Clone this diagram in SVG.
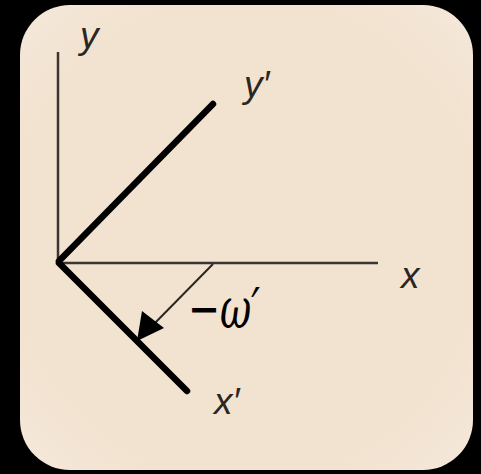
<svg xmlns="http://www.w3.org/2000/svg" width="481" height="474" viewBox="0 0 481 474">
<defs>
<style>
.axis{stroke:#3b3631;stroke-width:2.5;fill:none}
.prime{stroke:#000;stroke-width:6.5;stroke-linecap:round;fill:none}
.lbl{font-family:"Liberation Sans",Arial,sans-serif;font-style:italic;font-size:37px;fill:#2a2622}
.math{font-family:"DejaVu Serif","Liberation Serif",serif;font-style:italic;font-size:56px;fill:#000}
</style>
<radialGradient id="bg" cx="0.5" cy="0.5" r="0.75">
<stop offset="0.7" stop-color="#f2e2d0"/>
<stop offset="1" stop-color="#f6ebde"/>
</radialGradient>
</defs>
<rect x="0" y="0" width="481" height="474" fill="#000"/>
<rect x="20" y="5" width="453" height="465" rx="50" ry="50" fill="url(#bg)"/>
<g id="axes">
<line class="axis" x1="58" y1="52" x2="58" y2="263"/>
<line class="axis" x1="57" y1="263" x2="378" y2="263"/>
</g>
<g id="primed-axes">
<line class="prime" x1="59" y1="261" x2="213" y2="104"/>
<line class="prime" x1="59" y1="263" x2="187" y2="391"/>
</g>
<g id="connectors">
<line x1="213" y1="264" x2="152" y2="326" stroke="#2a2622" stroke-width="2"/>
<polygon points="137,341 142,311 164,328" fill="#000"/>
</g>
<g id="labels">
<text class="lbl" x="80" y="48">y</text>
<text class="lbl" x="244" y="97">y′</text>
<text class="lbl" x="401" y="288">x</text>
<text class="lbl" x="214" y="414">x′</text>
<text class="math" x="188" y="328" textLength="72" lengthAdjust="spacingAndGlyphs">−ω′</text>
</g>
</svg>
